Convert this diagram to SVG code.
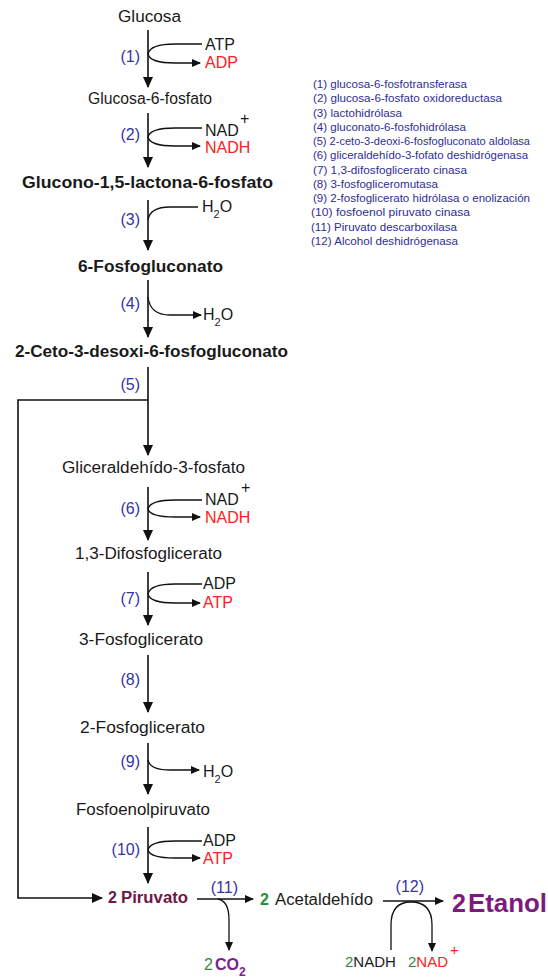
<svg xmlns="http://www.w3.org/2000/svg" width="548" height="979" viewBox="0 0 548 979">
<defs>
<style>
text{font-family:"Liberation Sans",Arial,sans-serif;}
.m{font-size:16px;fill:#1a1a1a;}
.b{font-size:16px;font-weight:bold;fill:#1a1a1a;}
.s{font-size:16px;fill:#1a1a1a;}
.r{font-size:16px;fill:#ff2020;}
.n{font-size:16px;fill:#3434a6;text-anchor:end;}
.sub{font-size:11px;}
.lg{font-size:11px;fill:#2e2e96;}
.g{fill:#2e7d32;}
.ln{fill:none;stroke:#111;stroke-width:1.6;}
.lt{fill:none;stroke:#111;stroke-width:1.3;}
</style>
<marker id="big" markerWidth="12" markerHeight="12" refX="10" refY="6" orient="auto" markerUnits="userSpaceOnUse"><path d="M0,1 L11,6 L0,11 z" fill="#111"/></marker>
<marker id="sm" markerWidth="10" markerHeight="10" refX="8" refY="5" orient="auto" markerUnits="userSpaceOnUse"><path d="M0,1 L9,5 L0,9 z" fill="#111"/></marker>
</defs>
<rect width="548" height="979" fill="#fff"/>

<g id="connectors">
<path class="ln" d="M148,30 V87" marker-end="url(#big)"/>
<path class="lt" d="M202,44 H175 Q150,44 148,54 Q150,63 175,63 H200" marker-end="url(#sm)"/>
<path class="ln" d="M148,113 V167" marker-end="url(#big)"/>
<path class="lt" d="M202,128 H175 Q150,128 148,137 Q150,146 175,146 H200" marker-end="url(#sm)"/>
<path class="ln" d="M148,200 V250" marker-end="url(#big)"/>
<path class="lt" d="M148,220 Q150,207 170,207 H198"/>
<path class="ln" d="M148,280 V337" marker-end="url(#big)"/>
<path class="lt" d="M148,297 Q150,315 170,315 H201" marker-end="url(#sm)"/>
<path class="ln" d="M148,367 V455" marker-end="url(#big)"/>
<path class="ln" d="M148,400 H18 V898 H102" marker-end="url(#big)"/>
<path class="ln" d="M148,487 V540" marker-end="url(#big)"/>
<path class="lt" d="M202,500 H175 Q150,500 148,509 Q150,517 175,517 H200" marker-end="url(#sm)"/>
<path class="ln" d="M148,572 V625" marker-end="url(#big)"/>
<path class="lt" d="M202,584 H175 Q150,584 148,594 Q150,603 175,603 H200" marker-end="url(#sm)"/>
<path class="ln" d="M148,655 V712" marker-end="url(#big)"/>
<path class="ln" d="M148,743 V794" marker-end="url(#big)"/>
<path class="lt" d="M148,760 Q150,770 170,770 H199" marker-end="url(#sm)"/>
<path class="ln" d="M148,827 V883" marker-end="url(#big)"/>
<path class="lt" d="M202,841 H175 Q150,841 148,850 Q150,858 175,858 H200" marker-end="url(#sm)"/>
<path class="ln" d="M197,899 H253" marker-end="url(#sm)"/>
<path class="lt" d="M218,899 Q229,901 229,920 V950" marker-end="url(#sm)"/>
<path class="ln" d="M383,901 H443" marker-end="url(#sm)"/>
<path class="lt" d="M391,950 V925 Q391,902 411,902 Q432,902 432,925 V951" marker-end="url(#sm)"/>
</g>

<g id="glucosa"><text class="m" x="118" y="22" textLength="63" lengthAdjust="spacingAndGlyphs">Glucosa</text></g>
<g id="step1"><text class="n" x="140" y="62">(1)</text><text class="s" x="205" y="50">ATP</text><text class="r" x="205" y="68">ADP</text></g>
<g id="g6p"><text class="m" x="88" y="104" textLength="124" lengthAdjust="spacingAndGlyphs">Glucosa-6-fosfato</text></g>
<g id="step2"><text class="n" x="140" y="140">(2)</text><text class="s" x="205" y="136">NAD</text><text class="s" x="240" y="124">+</text><text class="r" x="205" y="153">NADH</text></g>
<g id="glucono"><text class="b" x="22" y="188" textLength="251" lengthAdjust="spacingAndGlyphs">Glucono-1,5-lactona-6-fosfato</text></g>
<g id="step3"><text class="n" x="140" y="225">(3)</text><text class="s" x="202" y="212">H<tspan class="sub" dy="6">2</tspan><tspan dy="-6">O</tspan></text></g>
<g id="fosfogluconato"><text class="b" x="78" y="272" textLength="145" lengthAdjust="spacingAndGlyphs">6-Fosfogluconato</text></g>
<g id="step4"><text class="n" x="140" y="309">(4)</text><text class="s" x="203" y="320">H<tspan class="sub" dy="6">2</tspan><tspan dy="-6">O</tspan></text></g>
<g id="ceto"><text class="b" x="15" y="357" textLength="273" lengthAdjust="spacingAndGlyphs">2-Ceto-3-desoxi-6-fosfogluconato</text></g>
<g id="step5"><text class="n" x="140" y="390">(5)</text></g>
<g id="gliceraldehido"><text class="m" x="62" y="473" textLength="183" lengthAdjust="spacingAndGlyphs">Gliceraldehído-3-fosfato</text></g>
<g id="step6"><text class="n" x="140" y="514">(6)</text><text class="s" x="205" y="505">NAD</text><text class="s" x="241" y="493">+</text><text class="r" x="205" y="523">NADH</text></g>
<g id="difosfoglicerato"><text class="m" x="75" y="559" textLength="147" lengthAdjust="spacingAndGlyphs">1,3-Difosfoglicerato</text></g>
<g id="step7"><text class="n" x="140" y="604">(7)</text><text class="s" x="203" y="589">ADP</text><text class="r" x="203" y="608">ATP</text></g>
<g id="fosfoglicerato3"><text class="m" x="79" y="645" textLength="124" lengthAdjust="spacingAndGlyphs">3-Fosfoglicerato</text></g>
<g id="step8"><text class="n" x="140" y="685">(8)</text></g>
<g id="fosfoglicerato2"><text class="m" x="80" y="733" textLength="125" lengthAdjust="spacingAndGlyphs">2-Fosfoglicerato</text></g>
<g id="step9"><text class="n" x="140" y="767">(9)</text><text class="s" x="203" y="777">H<tspan class="sub" dy="6">2</tspan><tspan dy="-6">O</tspan></text></g>
<g id="fosfoenolpiruvato"><text class="m" x="76" y="815" textLength="134" lengthAdjust="spacingAndGlyphs">Fosfoenolpiruvato</text></g>
<g id="step10"><text class="n" x="140" y="855">(10)</text><text class="s" x="203" y="846">ADP</text><text class="r" x="203" y="864">ATP</text></g>
<g id="piruvato"><text class="b" x="108" y="903" style="fill:#6e1848">2</text><text class="b" x="121" y="903" textLength="67" lengthAdjust="spacingAndGlyphs" style="fill:#6e1848">Piruvato</text></g>
<g id="step11"><text class="n" x="238" y="893">(11)</text></g>
<g id="co2"><text x="204" y="970" style="font-size:16px;fill:#2e8b3a">2</text><text x="215" y="970" style="font-size:16px;font-weight:bold;fill:#7b1f8f">CO<tspan style="font-size:12px" dy="6">2</tspan></text></g>
<g id="acetaldehido"><text x="260" y="905" style="font-size:16px;font-weight:bold;fill:#2e8b3a">2</text><text class="m" x="275" y="905" textLength="98" lengthAdjust="spacingAndGlyphs">Acetaldehído</text></g>
<g id="step12"><text class="n" x="424" y="892">(12)</text></g>
<g id="etanol"><text x="452" y="912" style="font-size:25px;font-weight:bold;fill:#7d1a7d">2</text><text x="468" y="912" textLength="79" lengthAdjust="spacingAndGlyphs" style="font-size:25px;font-weight:bold;fill:#7d1a7d">Etanol</text></g>
<g id="nadh"><text x="345" y="967" style="font-size:15px"><tspan style="fill:#2e8b3a">2</tspan><tspan style="fill:#1a1a1a">NADH</tspan></text></g>
<g id="nad"><text x="408" y="967" style="font-size:15px"><tspan style="fill:#2e8b3a">2</tspan><tspan style="fill:#ff2020">NAD</tspan></text><text x="450" y="955" style="font-size:15px;fill:#ff2020">+</text></g>

<g id="legend">
<text class="lg" x="313" y="88" textLength="154" lengthAdjust="spacingAndGlyphs">(1) glucosa-6-fosfotransferasa</text>
<text class="lg" x="313" y="102" textLength="189" lengthAdjust="spacingAndGlyphs">(2) glucosa-6-fosfato oxidoreductasa</text>
<text class="lg" x="313" y="117" textLength="89" lengthAdjust="spacingAndGlyphs">(3) lactohidrólasa</text>
<text class="lg" x="313" y="131" textLength="153" lengthAdjust="spacingAndGlyphs">(4) gluconato-6-fosfohidrólasa</text>
<text class="lg" x="313" y="145" textLength="217" lengthAdjust="spacingAndGlyphs">(5) 2-ceto-3-deoxi-6-fosfogluconato aldolasa</text>
<text class="lg" x="313" y="159" textLength="215" lengthAdjust="spacingAndGlyphs">(6) gliceraldehído-3-fofato deshidrógenasa</text>
<text class="lg" x="313" y="174" textLength="154" lengthAdjust="spacingAndGlyphs">(7) 1,3-difosfoglicerato cinasa</text>
<text class="lg" x="313" y="188" textLength="125" lengthAdjust="spacingAndGlyphs">(8) 3-fosfogliceromutasa</text>
<text class="lg" x="313" y="202" textLength="217" lengthAdjust="spacingAndGlyphs">(9) 2-fosfoglicerato hidrólasa o enolización</text>
<text class="lg" x="311" y="216" textLength="159" lengthAdjust="spacingAndGlyphs">(10) fosfoenol piruvato cinasa</text>
<text class="lg" x="311" y="231" textLength="146" lengthAdjust="spacingAndGlyphs">(11) Piruvato descarboxilasa</text>
<text class="lg" x="311" y="245" textLength="147" lengthAdjust="spacingAndGlyphs">(12) Alcohol deshidrógenasa</text>
</g>
</svg>
